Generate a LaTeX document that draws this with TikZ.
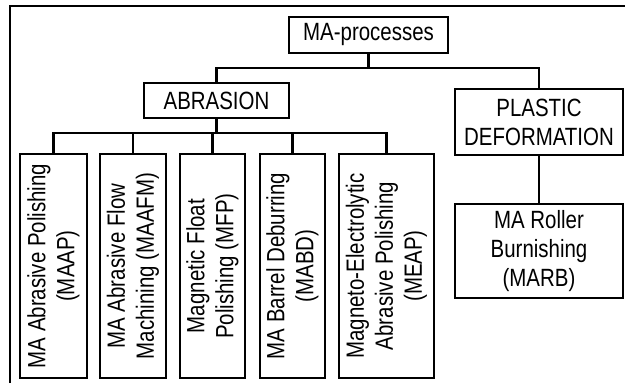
\documentclass[tikz,border=0pt]{standalone}
\usepackage{fontspec}
\setmainfont{Liberation Sans}[FakeStretch=0.82]

\tikzset{
  box/.style={draw,line width=0.8pt,inner sep=0pt,align=center,
    font=\fontsize{14.2}{16.5}\selectfont},
  leaf/.style={box,rotate=90,minimum width=4.48cm},
  conn/.style={line width=1.4pt},
  frame/.style={line width=0.6pt}
}

\begin{document}
\begin{tikzpicture}[x=0.02cm,y=-0.02cm]
\useasboundingbox (0,0) rectangle (625,383);
\draw[frame] (10,383) -- (10,6) -- (625,6);
\node[box,minimum width=3.18cm,minimum height=0.72cm] (proc) at (368.5,35) {MA-processes};
\node[box,minimum width=2.9cm,minimum height=0.7cm] (abr) at (216.5,100.5) {ABRASION};
\node[box,minimum width=3.36cm,minimum height=1.32cm] (plast) at (539,122) {PLASTIC\\DEFORMATION};
\node[box,minimum width=3.36cm,minimum height=1.88cm] (marb) at (539,251) {MA Roller\\Burnishing\\(MARB)};
\node[leaf,minimum height=1.34cm] (l1) at (53.5,266) {MA Abrasive Polishing\\(MAAP)};
\node[leaf,minimum height=1.32cm] (l2) at (133,266) {MA Abrasive Flow\\Machining (MAAFM)};
\node[leaf,minimum height=1.3cm] (l3) at (212.5,266) {Magnetic Float\\Polishing (MFP)};
\node[leaf,minimum height=1.3cm] (l4) at (292.5,266) {MA Barrel Deburring\\(MABD)};
\node[leaf,minimum height=1.9cm] (l5) at (386.5,266) {Magneto-Electrolytic\\Abrasive Polishing\\(MEAP)};
\coordinate (bus1) at (0,68);
\coordinate (bus2) at (0,133);
\draw[conn] (proc.south) -- (proc.south |- bus1);
\draw[conn] (abr.north) -- (abr.north |- bus1) -- (plast.north |- bus1) -- (plast.north);
\draw[conn] (plast.south) -- (marb.north);
\draw[conn] (abr.south) -- (abr.south |- bus2);
\draw[conn] (l1.east) -- (l1.east |- bus2) -- (l5.east |- bus2) -- (l5.east);
\draw[conn] (l2.east) -- (l2.east |- bus2);
\draw[conn] (l3.east) -- (l3.east |- bus2);
\draw[conn] (l4.east) -- (l4.east |- bus2);
\end{tikzpicture}
\end{document}
